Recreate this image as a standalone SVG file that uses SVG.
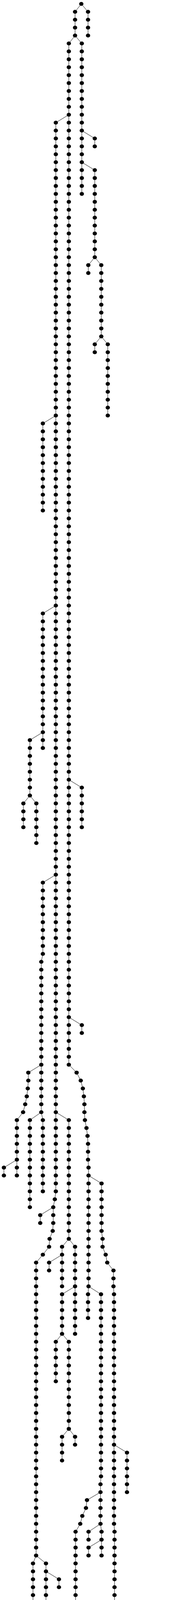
<svg xmlns="http://www.w3.org/2000/svg" width="439" height="6951" viewBox="0 0 439 6951">
<style>.e{fill:none;stroke:#000;stroke-width:1;vector-effect:non-scaling-stroke;stroke-linejoin:round}#d{fill:#000;stroke:none}</style>
<defs><ellipse id="d" cx="0" cy="0" rx="5.5" ry="0.2467"/></defs>
<rect width="439" height="6951" fill="#fff"/>
<g transform="matrix(1 0 0 20.266 0 10)">
<g id="edges">
<polyline class="e" points="208.7,0 226,1 226,4"/>
<polyline class="e" points="208.7,0 192.7,1 192.7,4"/>
<polyline class="e" points="192.7,4 176.7,5 176.7,134 196.7,135 207.3,136 212.7,137 215.3,138 216.7,139 216.7,140 218,141 222,142 224.7,143 226,144 226,146 227.3,147 227.3,162 226,163 226,166"/>
<polyline class="e" points="192.7,4 210,5 210,24"/>
<polyline class="e" points="210,16 243.3,17 243.3,18"/>
<polyline class="e" points="210,20 243.3,21 243.3,32"/>
<polyline class="e" points="243.3,32 226.7,33 226.7,34"/>
<polyline class="e" points="243.3,32 260,33 260,42"/>
<polyline class="e" points="260,42 243.3,43 243.3,44"/>
<polyline class="e" points="260,42 276.7,43 276.7,52"/>
<polyline class="e" points="176.7,14 143.3,15 143.3,150 140.7,151 136.7,152 136.7,154 135.3,155 127.3,156 126,157 110,158 92.7,159 92.7,196"/>
<polyline class="e" points="143.3,52 110,53 110,64"/>
<polyline class="e" points="143.3,76 110,77 110,94"/>
<polyline class="e" points="110,92 76.7,93 76.7,100"/>
<polyline class="e" points="76.7,100 60,101 60,104"/>
<polyline class="e" points="76.7,100 93.3,101 93.3,106"/>
<polyline class="e" points="143.3,110 110,111 110,120 106,121 106,140"/>
<polyline class="e" points="106,134 72.7,135 72.7,136 71.3,137 68.7,138 64.7,139 59.3,140 43.3,141 43.3,148"/>
<polyline class="e" points="43.3,146 10,147 10,148"/>
<polyline class="e" points="106,140 76.7,141 76.7,152"/>
<polyline class="e" points="106,140 110,141 110,150"/>
<polyline class="e" points="143.3,140 176.7,141 176.7,156"/>
<polyline class="e" points="176.7,128 210,129 210,130"/>
<polyline class="e" points="176.7,98 210,99 210,104"/>
<polyline class="e" points="227.3,148 260.7,149 260.7,155 263.3,156 263.3,157 271.3,158 275.3,159 291.3,160 291.3,162 292.7,163 292.7,192 294,193 294,206 295.3,207 295.3,226"/>
<polyline class="e" points="292.7,182 326,183 326,188"/>
<polyline class="e" points="294,206 262,207 262,268 260.7,269 260.7,328"/>
<polyline class="e" points="262,268 294,269 294,270"/>
<polyline class="e" points="295.3,220 328.7,221 328.7,284"/>
<polyline class="e" points="328.7,238 295.3,239 295.3,244"/>
<polyline class="e" points="328.7,252 362,253 362,260"/>
<polyline class="e" points="328.7,260 362,261 362,262"/>
<polyline class="e" points="328.7,276 362,277 362,298"/>
<polyline class="e" points="362,298 346,299 346,310"/>
<polyline class="e" points="346,302 312.7,303 312.7,304"/>
<polyline class="e" points="362,298 379.3,299 379.3,306"/>
<polyline class="e" points="379.3,304 412.7,305 412.7,310"/>
<polyline class="e" points="412.7,310 395.3,311 395.3,312"/>
<polyline class="e" points="412.7,310 428.7,311 428.7,312"/>
<polyline class="e" points="328.7,282 295.3,283 295.3,296"/>
<polyline class="e" points="295.3,288 328.7,289 328.7,290"/>
<polyline class="e" points="136.7,152 103.3,153 103.3,154"/>
<polyline class="e" points="176.7,156 159.3,157 159.3,162"/>
<polyline class="e" points="159.3,158 126,159 126,160"/>
<polyline class="e" points="176.7,156 192.7,157 192.7,168"/>
<polyline class="e" points="192.7,162 159.3,163 159.3,168"/>
<polyline class="e" points="159.3,168 143.3,169 143.3,174"/>
<polyline class="e" points="159.3,168 176.7,169 176.7,180"/>
<polyline class="e" points="176.7,180 159.3,181 159.3,184"/>
<polyline class="e" points="176.7,180 192.7,181 192.7,182"/>
<polyline class="e" points="227.3,162 259.3,163 259.3,186 258,187 258,192 260.7,193 260.7,196"/>
<polyline class="e" points="258,188 223.3,189 220.7,190 211.3,191 206,192 194,193 194,206"/>
<polyline class="e" points="258,192 227.3,193 227.3,194"/>
<polyline class="e" points="260.7,194 227.3,195 227.3,196"/>
<polyline class="e" points="92.7,196 84.7,197 84.7,204"/>
<polyline class="e" points="92.7,196 118,197 118,228"/>
<polyline class="e" points="118,198 151.3,199 151.3,200"/>
<polyline class="e" points="118,228 115.3,229 115.3,234"/>
<polyline class="e" points="115.3,232 82,233 82,234"/>
<polyline class="e" points="118,228 148.7,229 148.7,234"/>
<polyline class="e" points="148.7,234 119.3,235 119.3,241 118,242 115.3,243 111.3,244 107.3,245 107.3,246"/>
<polyline class="e" points="119.3,238 86,239 86,240"/>
<polyline class="e" points="148.7,234 152.7,235 152.7,244"/>
<polyline class="e" points="152.7,238 187.3,239 187.3,242 188.7,243 191.3,244 207.3,245 207.3,248"/>
<polyline class="e" points="152.7,244 140.7,245 140.7,248"/>
<polyline class="e" points="152.7,244 174,245 174,246"/>
<polyline class="e" points="207.3,248 224.7,249 224.7,250"/>
<polyline class="e" points="207.3,248 191.3,249 191.3,272"/>
<polyline class="e" points="191.3,258 224.7,259 224.7,260"/>
<polyline class="e" points="191.3,272 160.7,273 160.7,298"/>
<polyline class="e" points="191.3,272 194,273 194,278"/>
<polyline class="e" points="194,276 227.3,277 227.3,284"/>
<polyline class="e" points="160.7,298 178,299 178,300"/>
<polyline class="e" points="160.7,298 144.7,299 144.7,318"/>
<polyline class="e" points="144.7,318 128.7,319 128.7,338"/>
<polyline class="e" points="128.7,326 95.3,327 95.3,332"/>
<polyline class="e" points="128.7,338 112.7,339 112.7,340"/>
<polyline class="e" points="128.7,338 146,339 146,342"/>
<polyline class="e" points="144.7,318 162,319 162,328"/>
<polyline class="e" points="162,324 195.3,325 195.3,328"/>
</g>
<g id="nodes">
<g transform="translate(208.7)"><g id="c1-0"><use href="#d" y="0"/></g></g>
<g transform="translate(226)"><g id="c2-1"><use href="#d" y="1"/></g><g id="c2-2"><use href="#d" y="2"/></g><g id="c2-3"><use href="#d" y="3"/></g><g id="c2-4"><use href="#d" y="4"/></g></g>
<g transform="translate(192.7)"><g id="c3-1"><use href="#d" y="1"/></g><g id="c3-2"><use href="#d" y="2"/></g><g id="c3-3"><use href="#d" y="3"/></g><g id="c3-4"><use href="#d" y="4"/></g></g>
<g transform="translate(176.7)">
<g id="c4-5"><use href="#d" y="5"/></g><g id="c4-6"><use href="#d" y="6"/></g><g id="c4-7"><use href="#d" y="7"/></g><g id="c4-8"><use href="#d" y="8"/></g><g id="c4-9"><use href="#d" y="9"/></g>
<g id="c4-10"><use href="#d" y="10"/></g><g id="c4-11"><use href="#d" y="11"/></g><g id="c4-12"><use href="#d" y="12"/></g><g id="c4-13"><use href="#d" y="13"/></g><g id="c4-14"><use href="#d" y="14"/></g><g id="c4-15"><use href="#d" y="15"/></g><g id="c4-16"><use href="#d" y="16"/></g><g id="c4-17"><use href="#d" y="17"/></g><g id="c4-18"><use href="#d" y="18"/></g><g id="c4-19"><use href="#d" y="19"/></g>
<g id="c4-20"><use href="#d" y="20"/></g><g id="c4-21"><use href="#d" y="21"/></g><g id="c4-22"><use href="#d" y="22"/></g><g id="c4-23"><use href="#d" y="23"/></g><g id="c4-24"><use href="#d" y="24"/></g><g id="c4-25"><use href="#d" y="25"/></g><g id="c4-26"><use href="#d" y="26"/></g><g id="c4-27"><use href="#d" y="27"/></g><g id="c4-28"><use href="#d" y="28"/></g><g id="c4-29"><use href="#d" y="29"/></g>
<g id="c4-30"><use href="#d" y="30"/></g><g id="c4-31"><use href="#d" y="31"/></g><g id="c4-32"><use href="#d" y="32"/></g><g id="c4-33"><use href="#d" y="33"/></g><g id="c4-34"><use href="#d" y="34"/></g><g id="c4-35"><use href="#d" y="35"/></g><g id="c4-36"><use href="#d" y="36"/></g><g id="c4-37"><use href="#d" y="37"/></g><g id="c4-38"><use href="#d" y="38"/></g><g id="c4-39"><use href="#d" y="39"/></g>
<g id="c4-40"><use href="#d" y="40"/></g><g id="c4-41"><use href="#d" y="41"/></g><g id="c4-42"><use href="#d" y="42"/></g><g id="c4-43"><use href="#d" y="43"/></g><g id="c4-44"><use href="#d" y="44"/></g><g id="c4-45"><use href="#d" y="45"/></g><g id="c4-46"><use href="#d" y="46"/></g><g id="c4-47"><use href="#d" y="47"/></g><g id="c4-48"><use href="#d" y="48"/></g><g id="c4-49"><use href="#d" y="49"/></g>
<g id="c4-50"><use href="#d" y="50"/></g><g id="c4-51"><use href="#d" y="51"/></g><g id="c4-52"><use href="#d" y="52"/></g><g id="c4-53"><use href="#d" y="53"/></g><g id="c4-54"><use href="#d" y="54"/></g><g id="c4-55"><use href="#d" y="55"/></g><g id="c4-56"><use href="#d" y="56"/></g><g id="c4-57"><use href="#d" y="57"/></g><g id="c4-58"><use href="#d" y="58"/></g><g id="c4-59"><use href="#d" y="59"/></g>
<g id="c4-60"><use href="#d" y="60"/></g><g id="c4-61"><use href="#d" y="61"/></g><g id="c4-62"><use href="#d" y="62"/></g><g id="c4-63"><use href="#d" y="63"/></g><g id="c4-64"><use href="#d" y="64"/></g><g id="c4-65"><use href="#d" y="65"/></g><g id="c4-66"><use href="#d" y="66"/></g><g id="c4-67"><use href="#d" y="67"/></g><g id="c4-68"><use href="#d" y="68"/></g><g id="c4-69"><use href="#d" y="69"/></g>
<g id="c4-70"><use href="#d" y="70"/></g><g id="c4-71"><use href="#d" y="71"/></g><g id="c4-72"><use href="#d" y="72"/></g><g id="c4-73"><use href="#d" y="73"/></g><g id="c4-74"><use href="#d" y="74"/></g><g id="c4-75"><use href="#d" y="75"/></g><g id="c4-76"><use href="#d" y="76"/></g><g id="c4-77"><use href="#d" y="77"/></g><g id="c4-78"><use href="#d" y="78"/></g><g id="c4-79"><use href="#d" y="79"/></g>
<g id="c4-80"><use href="#d" y="80"/></g><g id="c4-81"><use href="#d" y="81"/></g><g id="c4-82"><use href="#d" y="82"/></g><g id="c4-83"><use href="#d" y="83"/></g><g id="c4-84"><use href="#d" y="84"/></g><g id="c4-85"><use href="#d" y="85"/></g><g id="c4-86"><use href="#d" y="86"/></g><g id="c4-87"><use href="#d" y="87"/></g><g id="c4-88"><use href="#d" y="88"/></g><g id="c4-89"><use href="#d" y="89"/></g>
<g id="c4-90"><use href="#d" y="90"/></g><g id="c4-91"><use href="#d" y="91"/></g><g id="c4-92"><use href="#d" y="92"/></g><g id="c4-93"><use href="#d" y="93"/></g><g id="c4-94"><use href="#d" y="94"/></g><g id="c4-95"><use href="#d" y="95"/></g><g id="c4-96"><use href="#d" y="96"/></g><g id="c4-97"><use href="#d" y="97"/></g><g id="c4-98"><use href="#d" y="98"/></g><g id="c4-99"><use href="#d" y="99"/></g>
<g id="c4-100"><use href="#d" y="100"/></g><g id="c4-101"><use href="#d" y="101"/></g><g id="c4-102"><use href="#d" y="102"/></g><g id="c4-103"><use href="#d" y="103"/></g><g id="c4-104"><use href="#d" y="104"/></g><g id="c4-105"><use href="#d" y="105"/></g><g id="c4-106"><use href="#d" y="106"/></g><g id="c4-107"><use href="#d" y="107"/></g><g id="c4-108"><use href="#d" y="108"/></g><g id="c4-109"><use href="#d" y="109"/></g>
<g id="c4-110"><use href="#d" y="110"/></g><g id="c4-111"><use href="#d" y="111"/></g><g id="c4-112"><use href="#d" y="112"/></g><g id="c4-113"><use href="#d" y="113"/></g><g id="c4-114"><use href="#d" y="114"/></g><g id="c4-115"><use href="#d" y="115"/></g><g id="c4-116"><use href="#d" y="116"/></g><g id="c4-117"><use href="#d" y="117"/></g><g id="c4-118"><use href="#d" y="118"/></g><g id="c4-119"><use href="#d" y="119"/></g>
<g id="c4-120"><use href="#d" y="120"/></g><g id="c4-121"><use href="#d" y="121"/></g><g id="c4-122"><use href="#d" y="122"/></g><g id="c4-123"><use href="#d" y="123"/></g><g id="c4-124"><use href="#d" y="124"/></g><g id="c4-125"><use href="#d" y="125"/></g><g id="c4-126"><use href="#d" y="126"/></g><g id="c4-127"><use href="#d" y="127"/></g><g id="c4-128"><use href="#d" y="128"/></g><g id="c4-129"><use href="#d" y="129"/></g>
<g id="c4-130"><use href="#d" y="130"/></g><g id="c4-131"><use href="#d" y="131"/></g><g id="c4-132"><use href="#d" y="132"/></g><g id="c4-133"><use href="#d" y="133"/></g><g id="c4-134"><use href="#d" y="134"/></g>
</g>
<g transform="translate(196.7)"><g id="c4-135"><use href="#d" y="135"/></g></g>
<g transform="translate(207.3)"><g id="c4-136"><use href="#d" y="136"/></g></g>
<g transform="translate(212.7)"><g id="c4-137"><use href="#d" y="137"/></g></g>
<g transform="translate(215.3)"><g id="c4-138"><use href="#d" y="138"/></g></g>
<g transform="translate(216.7)"><g id="c4-139"><use href="#d" y="139"/></g><g id="c4-140"><use href="#d" y="140"/></g></g>
<g transform="translate(218)"><g id="c4-141"><use href="#d" y="141"/></g></g>
<g transform="translate(222)"><g id="c4-142"><use href="#d" y="142"/></g></g>
<g transform="translate(224.7)"><g id="c4-143"><use href="#d" y="143"/></g></g>
<g transform="translate(226)"><g id="c4-144"><use href="#d" y="144"/></g><g id="c4-145"><use href="#d" y="145"/></g><g id="c4-146"><use href="#d" y="146"/></g></g>
<g transform="translate(227.3)"><g id="c4-147"><use href="#d" y="147"/></g><g id="c4-148"><use href="#d" y="148"/></g><g id="c4-149"><use href="#d" y="149"/></g><g id="c4-150"><use href="#d" y="150"/></g><g id="c4-151"><use href="#d" y="151"/></g><g id="c4-152"><use href="#d" y="152"/></g><g id="c4-153"><use href="#d" y="153"/></g><g id="c4-154"><use href="#d" y="154"/></g><g id="c4-155"><use href="#d" y="155"/></g><g id="c4-156"><use href="#d" y="156"/></g><g id="c4-157"><use href="#d" y="157"/></g><g id="c4-158"><use href="#d" y="158"/></g><g id="c4-159"><use href="#d" y="159"/></g><g id="c4-160"><use href="#d" y="160"/></g><g id="c4-161"><use href="#d" y="161"/></g><g id="c4-162"><use href="#d" y="162"/></g></g>
<g transform="translate(226)"><g id="c4-163"><use href="#d" y="163"/></g><g id="c4-164"><use href="#d" y="164"/></g><g id="c4-165"><use href="#d" y="165"/></g><g id="c4-166"><use href="#d" y="166"/></g></g>
<g transform="translate(210)"><g id="c5-5"><use href="#d" y="5"/></g><g id="c5-6"><use href="#d" y="6"/></g><g id="c5-7"><use href="#d" y="7"/></g><g id="c5-8"><use href="#d" y="8"/></g><g id="c5-9"><use href="#d" y="9"/></g><g id="c5-10"><use href="#d" y="10"/></g><g id="c5-11"><use href="#d" y="11"/></g><g id="c5-12"><use href="#d" y="12"/></g><g id="c5-13"><use href="#d" y="13"/></g><g id="c5-14"><use href="#d" y="14"/></g><g id="c5-15"><use href="#d" y="15"/></g><g id="c5-16"><use href="#d" y="16"/></g><g id="c5-17"><use href="#d" y="17"/></g><g id="c5-18"><use href="#d" y="18"/></g><g id="c5-19"><use href="#d" y="19"/></g><g id="c5-20"><use href="#d" y="20"/></g><g id="c5-21"><use href="#d" y="21"/></g><g id="c5-22"><use href="#d" y="22"/></g><g id="c5-23"><use href="#d" y="23"/></g><g id="c5-24"><use href="#d" y="24"/></g></g>
<g transform="translate(243.3)"><g id="c6-17"><use href="#d" y="17"/></g><g id="c6-18"><use href="#d" y="18"/></g></g>
<g transform="translate(243.3)"><g id="c7-21"><use href="#d" y="21"/></g><g id="c7-22"><use href="#d" y="22"/></g><g id="c7-23"><use href="#d" y="23"/></g><g id="c7-24"><use href="#d" y="24"/></g><g id="c7-25"><use href="#d" y="25"/></g><g id="c7-26"><use href="#d" y="26"/></g><g id="c7-27"><use href="#d" y="27"/></g><g id="c7-28"><use href="#d" y="28"/></g><g id="c7-29"><use href="#d" y="29"/></g><g id="c7-30"><use href="#d" y="30"/></g><g id="c7-31"><use href="#d" y="31"/></g><g id="c7-32"><use href="#d" y="32"/></g></g>
<g transform="translate(226.7)"><g id="c8-33"><use href="#d" y="33"/></g><g id="c8-34"><use href="#d" y="34"/></g></g>
<g transform="translate(260)"><g id="c9-33"><use href="#d" y="33"/></g><g id="c9-34"><use href="#d" y="34"/></g><g id="c9-35"><use href="#d" y="35"/></g><g id="c9-36"><use href="#d" y="36"/></g><g id="c9-37"><use href="#d" y="37"/></g><g id="c9-38"><use href="#d" y="38"/></g><g id="c9-39"><use href="#d" y="39"/></g><g id="c9-40"><use href="#d" y="40"/></g><g id="c9-41"><use href="#d" y="41"/></g><g id="c9-42"><use href="#d" y="42"/></g></g>
<g transform="translate(243.3)"><g id="c10-43"><use href="#d" y="43"/></g><g id="c10-44"><use href="#d" y="44"/></g></g>
<g transform="translate(276.7)"><g id="c11-43"><use href="#d" y="43"/></g><g id="c11-44"><use href="#d" y="44"/></g><g id="c11-45"><use href="#d" y="45"/></g><g id="c11-46"><use href="#d" y="46"/></g><g id="c11-47"><use href="#d" y="47"/></g><g id="c11-48"><use href="#d" y="48"/></g><g id="c11-49"><use href="#d" y="49"/></g><g id="c11-50"><use href="#d" y="50"/></g><g id="c11-51"><use href="#d" y="51"/></g><g id="c11-52"><use href="#d" y="52"/></g></g>
<g transform="translate(143.3)">
<g id="c12-15"><use href="#d" y="15"/></g><g id="c12-16"><use href="#d" y="16"/></g><g id="c12-17"><use href="#d" y="17"/></g><g id="c12-18"><use href="#d" y="18"/></g><g id="c12-19"><use href="#d" y="19"/></g>
<g id="c12-20"><use href="#d" y="20"/></g><g id="c12-21"><use href="#d" y="21"/></g><g id="c12-22"><use href="#d" y="22"/></g><g id="c12-23"><use href="#d" y="23"/></g><g id="c12-24"><use href="#d" y="24"/></g><g id="c12-25"><use href="#d" y="25"/></g><g id="c12-26"><use href="#d" y="26"/></g><g id="c12-27"><use href="#d" y="27"/></g><g id="c12-28"><use href="#d" y="28"/></g><g id="c12-29"><use href="#d" y="29"/></g>
<g id="c12-30"><use href="#d" y="30"/></g><g id="c12-31"><use href="#d" y="31"/></g><g id="c12-32"><use href="#d" y="32"/></g><g id="c12-33"><use href="#d" y="33"/></g><g id="c12-34"><use href="#d" y="34"/></g><g id="c12-35"><use href="#d" y="35"/></g><g id="c12-36"><use href="#d" y="36"/></g><g id="c12-37"><use href="#d" y="37"/></g><g id="c12-38"><use href="#d" y="38"/></g><g id="c12-39"><use href="#d" y="39"/></g>
<g id="c12-40"><use href="#d" y="40"/></g><g id="c12-41"><use href="#d" y="41"/></g><g id="c12-42"><use href="#d" y="42"/></g><g id="c12-43"><use href="#d" y="43"/></g><g id="c12-44"><use href="#d" y="44"/></g><g id="c12-45"><use href="#d" y="45"/></g><g id="c12-46"><use href="#d" y="46"/></g><g id="c12-47"><use href="#d" y="47"/></g><g id="c12-48"><use href="#d" y="48"/></g><g id="c12-49"><use href="#d" y="49"/></g>
<g id="c12-50"><use href="#d" y="50"/></g><g id="c12-51"><use href="#d" y="51"/></g><g id="c12-52"><use href="#d" y="52"/></g><g id="c12-53"><use href="#d" y="53"/></g><g id="c12-54"><use href="#d" y="54"/></g><g id="c12-55"><use href="#d" y="55"/></g><g id="c12-56"><use href="#d" y="56"/></g><g id="c12-57"><use href="#d" y="57"/></g><g id="c12-58"><use href="#d" y="58"/></g><g id="c12-59"><use href="#d" y="59"/></g>
<g id="c12-60"><use href="#d" y="60"/></g><g id="c12-61"><use href="#d" y="61"/></g><g id="c12-62"><use href="#d" y="62"/></g><g id="c12-63"><use href="#d" y="63"/></g><g id="c12-64"><use href="#d" y="64"/></g><g id="c12-65"><use href="#d" y="65"/></g><g id="c12-66"><use href="#d" y="66"/></g><g id="c12-67"><use href="#d" y="67"/></g><g id="c12-68"><use href="#d" y="68"/></g><g id="c12-69"><use href="#d" y="69"/></g>
<g id="c12-70"><use href="#d" y="70"/></g><g id="c12-71"><use href="#d" y="71"/></g><g id="c12-72"><use href="#d" y="72"/></g><g id="c12-73"><use href="#d" y="73"/></g><g id="c12-74"><use href="#d" y="74"/></g><g id="c12-75"><use href="#d" y="75"/></g><g id="c12-76"><use href="#d" y="76"/></g><g id="c12-77"><use href="#d" y="77"/></g><g id="c12-78"><use href="#d" y="78"/></g><g id="c12-79"><use href="#d" y="79"/></g>
<g id="c12-80"><use href="#d" y="80"/></g><g id="c12-81"><use href="#d" y="81"/></g><g id="c12-82"><use href="#d" y="82"/></g><g id="c12-83"><use href="#d" y="83"/></g><g id="c12-84"><use href="#d" y="84"/></g><g id="c12-85"><use href="#d" y="85"/></g><g id="c12-86"><use href="#d" y="86"/></g><g id="c12-87"><use href="#d" y="87"/></g><g id="c12-88"><use href="#d" y="88"/></g><g id="c12-89"><use href="#d" y="89"/></g>
<g id="c12-90"><use href="#d" y="90"/></g><g id="c12-91"><use href="#d" y="91"/></g><g id="c12-92"><use href="#d" y="92"/></g><g id="c12-93"><use href="#d" y="93"/></g><g id="c12-94"><use href="#d" y="94"/></g><g id="c12-95"><use href="#d" y="95"/></g><g id="c12-96"><use href="#d" y="96"/></g><g id="c12-97"><use href="#d" y="97"/></g><g id="c12-98"><use href="#d" y="98"/></g><g id="c12-99"><use href="#d" y="99"/></g>
<g id="c12-100"><use href="#d" y="100"/></g><g id="c12-101"><use href="#d" y="101"/></g><g id="c12-102"><use href="#d" y="102"/></g><g id="c12-103"><use href="#d" y="103"/></g><g id="c12-104"><use href="#d" y="104"/></g><g id="c12-105"><use href="#d" y="105"/></g><g id="c12-106"><use href="#d" y="106"/></g><g id="c12-107"><use href="#d" y="107"/></g><g id="c12-108"><use href="#d" y="108"/></g><g id="c12-109"><use href="#d" y="109"/></g>
<g id="c12-110"><use href="#d" y="110"/></g><g id="c12-111"><use href="#d" y="111"/></g><g id="c12-112"><use href="#d" y="112"/></g><g id="c12-113"><use href="#d" y="113"/></g><g id="c12-114"><use href="#d" y="114"/></g><g id="c12-115"><use href="#d" y="115"/></g><g id="c12-116"><use href="#d" y="116"/></g><g id="c12-117"><use href="#d" y="117"/></g><g id="c12-118"><use href="#d" y="118"/></g><g id="c12-119"><use href="#d" y="119"/></g>
<g id="c12-120"><use href="#d" y="120"/></g><g id="c12-121"><use href="#d" y="121"/></g><g id="c12-122"><use href="#d" y="122"/></g><g id="c12-123"><use href="#d" y="123"/></g><g id="c12-124"><use href="#d" y="124"/></g><g id="c12-125"><use href="#d" y="125"/></g><g id="c12-126"><use href="#d" y="126"/></g><g id="c12-127"><use href="#d" y="127"/></g><g id="c12-128"><use href="#d" y="128"/></g><g id="c12-129"><use href="#d" y="129"/></g>
<g id="c12-130"><use href="#d" y="130"/></g><g id="c12-131"><use href="#d" y="131"/></g><g id="c12-132"><use href="#d" y="132"/></g><g id="c12-133"><use href="#d" y="133"/></g><g id="c12-134"><use href="#d" y="134"/></g><g id="c12-135"><use href="#d" y="135"/></g><g id="c12-136"><use href="#d" y="136"/></g><g id="c12-137"><use href="#d" y="137"/></g><g id="c12-138"><use href="#d" y="138"/></g><g id="c12-139"><use href="#d" y="139"/></g>
<g id="c12-140"><use href="#d" y="140"/></g><g id="c12-141"><use href="#d" y="141"/></g><g id="c12-142"><use href="#d" y="142"/></g><g id="c12-143"><use href="#d" y="143"/></g><g id="c12-144"><use href="#d" y="144"/></g><g id="c12-145"><use href="#d" y="145"/></g><g id="c12-146"><use href="#d" y="146"/></g><g id="c12-147"><use href="#d" y="147"/></g><g id="c12-148"><use href="#d" y="148"/></g><g id="c12-149"><use href="#d" y="149"/></g>
<g id="c12-150"><use href="#d" y="150"/></g>
</g>
<g transform="translate(140.7)"><g id="c12-151"><use href="#d" y="151"/></g></g>
<g transform="translate(136.7)"><g id="c12-152"><use href="#d" y="152"/></g><g id="c12-153"><use href="#d" y="153"/></g><g id="c12-154"><use href="#d" y="154"/></g></g>
<g transform="translate(135.3)"><g id="c12-155"><use href="#d" y="155"/></g></g>
<g transform="translate(127.3)"><g id="c12-156"><use href="#d" y="156"/></g></g>
<g transform="translate(126)"><g id="c12-157"><use href="#d" y="157"/></g></g>
<g transform="translate(110)"><g id="c12-158"><use href="#d" y="158"/></g></g>
<g transform="translate(92.7)">
<g id="c12-159"><use href="#d" y="159"/></g><g id="c12-160"><use href="#d" y="160"/></g><g id="c12-161"><use href="#d" y="161"/></g><g id="c12-162"><use href="#d" y="162"/></g><g id="c12-163"><use href="#d" y="163"/></g><g id="c12-164"><use href="#d" y="164"/></g><g id="c12-165"><use href="#d" y="165"/></g><g id="c12-166"><use href="#d" y="166"/></g><g id="c12-167"><use href="#d" y="167"/></g><g id="c12-168"><use href="#d" y="168"/></g><g id="c12-169"><use href="#d" y="169"/></g>
<g id="c12-170"><use href="#d" y="170"/></g><g id="c12-171"><use href="#d" y="171"/></g><g id="c12-172"><use href="#d" y="172"/></g><g id="c12-173"><use href="#d" y="173"/></g><g id="c12-174"><use href="#d" y="174"/></g><g id="c12-175"><use href="#d" y="175"/></g><g id="c12-176"><use href="#d" y="176"/></g><g id="c12-177"><use href="#d" y="177"/></g><g id="c12-178"><use href="#d" y="178"/></g><g id="c12-179"><use href="#d" y="179"/></g>
<g id="c12-180"><use href="#d" y="180"/></g><g id="c12-181"><use href="#d" y="181"/></g><g id="c12-182"><use href="#d" y="182"/></g><g id="c12-183"><use href="#d" y="183"/></g><g id="c12-184"><use href="#d" y="184"/></g><g id="c12-185"><use href="#d" y="185"/></g><g id="c12-186"><use href="#d" y="186"/></g><g id="c12-187"><use href="#d" y="187"/></g><g id="c12-188"><use href="#d" y="188"/></g><g id="c12-189"><use href="#d" y="189"/></g>
<g id="c12-190"><use href="#d" y="190"/></g><g id="c12-191"><use href="#d" y="191"/></g><g id="c12-192"><use href="#d" y="192"/></g><g id="c12-193"><use href="#d" y="193"/></g><g id="c12-194"><use href="#d" y="194"/></g><g id="c12-195"><use href="#d" y="195"/></g><g id="c12-196"><use href="#d" y="196"/></g>
</g>
<g transform="translate(110)"><g id="c13-53"><use href="#d" y="53"/></g><g id="c13-54"><use href="#d" y="54"/></g><g id="c13-55"><use href="#d" y="55"/></g><g id="c13-56"><use href="#d" y="56"/></g><g id="c13-57"><use href="#d" y="57"/></g><g id="c13-58"><use href="#d" y="58"/></g><g id="c13-59"><use href="#d" y="59"/></g><g id="c13-60"><use href="#d" y="60"/></g><g id="c13-61"><use href="#d" y="61"/></g><g id="c13-62"><use href="#d" y="62"/></g><g id="c13-63"><use href="#d" y="63"/></g><g id="c13-64"><use href="#d" y="64"/></g></g>
<g transform="translate(110)"><g id="c14-77"><use href="#d" y="77"/></g><g id="c14-78"><use href="#d" y="78"/></g><g id="c14-79"><use href="#d" y="79"/></g><g id="c14-80"><use href="#d" y="80"/></g><g id="c14-81"><use href="#d" y="81"/></g><g id="c14-82"><use href="#d" y="82"/></g><g id="c14-83"><use href="#d" y="83"/></g><g id="c14-84"><use href="#d" y="84"/></g><g id="c14-85"><use href="#d" y="85"/></g><g id="c14-86"><use href="#d" y="86"/></g><g id="c14-87"><use href="#d" y="87"/></g><g id="c14-88"><use href="#d" y="88"/></g><g id="c14-89"><use href="#d" y="89"/></g><g id="c14-90"><use href="#d" y="90"/></g><g id="c14-91"><use href="#d" y="91"/></g><g id="c14-92"><use href="#d" y="92"/></g><g id="c14-93"><use href="#d" y="93"/></g><g id="c14-94"><use href="#d" y="94"/></g></g>
<g transform="translate(76.7)"><g id="c15-93"><use href="#d" y="93"/></g><g id="c15-94"><use href="#d" y="94"/></g><g id="c15-95"><use href="#d" y="95"/></g><g id="c15-96"><use href="#d" y="96"/></g><g id="c15-97"><use href="#d" y="97"/></g><g id="c15-98"><use href="#d" y="98"/></g><g id="c15-99"><use href="#d" y="99"/></g><g id="c15-100"><use href="#d" y="100"/></g></g>
<g transform="translate(60)"><g id="c80-101"><use href="#d" y="101"/></g><g id="c80-102"><use href="#d" y="102"/></g><g id="c80-103"><use href="#d" y="103"/></g><g id="c80-104"><use href="#d" y="104"/></g></g>
<g transform="translate(93.3)"><g id="c81-101"><use href="#d" y="101"/></g><g id="c81-102"><use href="#d" y="102"/></g><g id="c81-103"><use href="#d" y="103"/></g><g id="c81-104"><use href="#d" y="104"/></g><g id="c81-105"><use href="#d" y="105"/></g><g id="c81-106"><use href="#d" y="106"/></g></g>
<g transform="translate(110)"><g id="c16-111"><use href="#d" y="111"/></g><g id="c16-112"><use href="#d" y="112"/></g><g id="c16-113"><use href="#d" y="113"/></g><g id="c16-114"><use href="#d" y="114"/></g><g id="c16-115"><use href="#d" y="115"/></g><g id="c16-116"><use href="#d" y="116"/></g><g id="c16-117"><use href="#d" y="117"/></g><g id="c16-118"><use href="#d" y="118"/></g><g id="c16-119"><use href="#d" y="119"/></g><g id="c16-120"><use href="#d" y="120"/></g></g>
<g transform="translate(106)"><g id="c16-121"><use href="#d" y="121"/></g><g id="c16-122"><use href="#d" y="122"/></g><g id="c16-123"><use href="#d" y="123"/></g><g id="c16-124"><use href="#d" y="124"/></g><g id="c16-125"><use href="#d" y="125"/></g><g id="c16-126"><use href="#d" y="126"/></g><g id="c16-127"><use href="#d" y="127"/></g><g id="c16-128"><use href="#d" y="128"/></g><g id="c16-129"><use href="#d" y="129"/></g><g id="c16-130"><use href="#d" y="130"/></g><g id="c16-131"><use href="#d" y="131"/></g><g id="c16-132"><use href="#d" y="132"/></g><g id="c16-133"><use href="#d" y="133"/></g><g id="c16-134"><use href="#d" y="134"/></g><g id="c16-135"><use href="#d" y="135"/></g><g id="c16-136"><use href="#d" y="136"/></g><g id="c16-137"><use href="#d" y="137"/></g><g id="c16-138"><use href="#d" y="138"/></g><g id="c16-139"><use href="#d" y="139"/></g><g id="c16-140"><use href="#d" y="140"/></g></g>
<g transform="translate(72.7)"><g id="c17-135"><use href="#d" y="135"/></g><g id="c17-136"><use href="#d" y="136"/></g></g>
<g transform="translate(71.3)"><g id="c17-137"><use href="#d" y="137"/></g></g>
<g transform="translate(68.7)"><g id="c17-138"><use href="#d" y="138"/></g></g>
<g transform="translate(64.7)"><g id="c17-139"><use href="#d" y="139"/></g></g>
<g transform="translate(59.3)"><g id="c17-140"><use href="#d" y="140"/></g></g>
<g transform="translate(43.3)"><g id="c17-141"><use href="#d" y="141"/></g><g id="c17-142"><use href="#d" y="142"/></g><g id="c17-143"><use href="#d" y="143"/></g><g id="c17-144"><use href="#d" y="144"/></g><g id="c17-145"><use href="#d" y="145"/></g><g id="c17-146"><use href="#d" y="146"/></g><g id="c17-147"><use href="#d" y="147"/></g><g id="c17-148"><use href="#d" y="148"/></g></g>
<g transform="translate(10)"><g id="c18-147"><use href="#d" y="147"/></g><g id="c18-148"><use href="#d" y="148"/></g></g>
<g transform="translate(76.7)"><g id="c19-141"><use href="#d" y="141"/></g><g id="c19-142"><use href="#d" y="142"/></g><g id="c19-143"><use href="#d" y="143"/></g><g id="c19-144"><use href="#d" y="144"/></g><g id="c19-145"><use href="#d" y="145"/></g><g id="c19-146"><use href="#d" y="146"/></g><g id="c19-147"><use href="#d" y="147"/></g><g id="c19-148"><use href="#d" y="148"/></g><g id="c19-149"><use href="#d" y="149"/></g><g id="c19-150"><use href="#d" y="150"/></g><g id="c19-151"><use href="#d" y="151"/></g><g id="c19-152"><use href="#d" y="152"/></g></g>
<g transform="translate(110)"><g id="c20-141"><use href="#d" y="141"/></g><g id="c20-142"><use href="#d" y="142"/></g><g id="c20-143"><use href="#d" y="143"/></g><g id="c20-144"><use href="#d" y="144"/></g><g id="c20-145"><use href="#d" y="145"/></g><g id="c20-146"><use href="#d" y="146"/></g><g id="c20-147"><use href="#d" y="147"/></g><g id="c20-148"><use href="#d" y="148"/></g><g id="c20-149"><use href="#d" y="149"/></g><g id="c20-150"><use href="#d" y="150"/></g></g>
<g transform="translate(176.7)"><g id="c21-141"><use href="#d" y="141"/></g><g id="c21-142"><use href="#d" y="142"/></g><g id="c21-143"><use href="#d" y="143"/></g><g id="c21-144"><use href="#d" y="144"/></g><g id="c21-145"><use href="#d" y="145"/></g><g id="c21-146"><use href="#d" y="146"/></g><g id="c21-147"><use href="#d" y="147"/></g><g id="c21-148"><use href="#d" y="148"/></g><g id="c21-149"><use href="#d" y="149"/></g><g id="c21-150"><use href="#d" y="150"/></g><g id="c21-151"><use href="#d" y="151"/></g><g id="c21-152"><use href="#d" y="152"/></g><g id="c21-153"><use href="#d" y="153"/></g><g id="c21-154"><use href="#d" y="154"/></g><g id="c21-155"><use href="#d" y="155"/></g><g id="c21-156"><use href="#d" y="156"/></g></g>
<g transform="translate(210)"><g id="c22-129"><use href="#d" y="129"/></g><g id="c22-130"><use href="#d" y="130"/></g></g>
<g transform="translate(210)"><g id="c23-99"><use href="#d" y="99"/></g><g id="c23-100"><use href="#d" y="100"/></g><g id="c23-101"><use href="#d" y="101"/></g><g id="c23-102"><use href="#d" y="102"/></g><g id="c23-103"><use href="#d" y="103"/></g><g id="c23-104"><use href="#d" y="104"/></g></g>
<g transform="translate(260.7)"><g id="c24-149"><use href="#d" y="149"/></g><g id="c24-150"><use href="#d" y="150"/></g><g id="c24-151"><use href="#d" y="151"/></g><g id="c24-152"><use href="#d" y="152"/></g><g id="c24-153"><use href="#d" y="153"/></g><g id="c24-154"><use href="#d" y="154"/></g><g id="c24-155"><use href="#d" y="155"/></g></g>
<g transform="translate(263.3)"><g id="c24-156"><use href="#d" y="156"/></g><g id="c24-157"><use href="#d" y="157"/></g></g>
<g transform="translate(271.3)"><g id="c24-158"><use href="#d" y="158"/></g></g>
<g transform="translate(275.3)"><g id="c24-159"><use href="#d" y="159"/></g></g>
<g transform="translate(291.3)"><g id="c24-160"><use href="#d" y="160"/></g><g id="c24-161"><use href="#d" y="161"/></g><g id="c24-162"><use href="#d" y="162"/></g></g>
<g transform="translate(292.7)">
<g id="c24-163"><use href="#d" y="163"/></g><g id="c24-164"><use href="#d" y="164"/></g><g id="c24-165"><use href="#d" y="165"/></g><g id="c24-166"><use href="#d" y="166"/></g><g id="c24-167"><use href="#d" y="167"/></g><g id="c24-168"><use href="#d" y="168"/></g><g id="c24-169"><use href="#d" y="169"/></g><g id="c24-170"><use href="#d" y="170"/></g><g id="c24-171"><use href="#d" y="171"/></g><g id="c24-172"><use href="#d" y="172"/></g><g id="c24-173"><use href="#d" y="173"/></g><g id="c24-174"><use href="#d" y="174"/></g><g id="c24-175"><use href="#d" y="175"/></g><g id="c24-176"><use href="#d" y="176"/></g><g id="c24-177"><use href="#d" y="177"/></g>
<g id="c24-178"><use href="#d" y="178"/></g><g id="c24-179"><use href="#d" y="179"/></g><g id="c24-180"><use href="#d" y="180"/></g><g id="c24-181"><use href="#d" y="181"/></g><g id="c24-182"><use href="#d" y="182"/></g><g id="c24-183"><use href="#d" y="183"/></g><g id="c24-184"><use href="#d" y="184"/></g><g id="c24-185"><use href="#d" y="185"/></g><g id="c24-186"><use href="#d" y="186"/></g><g id="c24-187"><use href="#d" y="187"/></g><g id="c24-188"><use href="#d" y="188"/></g><g id="c24-189"><use href="#d" y="189"/></g><g id="c24-190"><use href="#d" y="190"/></g><g id="c24-191"><use href="#d" y="191"/></g><g id="c24-192"><use href="#d" y="192"/></g>
</g>
<g transform="translate(294)"><g id="c24-193"><use href="#d" y="193"/></g><g id="c24-194"><use href="#d" y="194"/></g><g id="c24-195"><use href="#d" y="195"/></g><g id="c24-196"><use href="#d" y="196"/></g><g id="c24-197"><use href="#d" y="197"/></g><g id="c24-198"><use href="#d" y="198"/></g><g id="c24-199"><use href="#d" y="199"/></g><g id="c24-200"><use href="#d" y="200"/></g><g id="c24-201"><use href="#d" y="201"/></g><g id="c24-202"><use href="#d" y="202"/></g><g id="c24-203"><use href="#d" y="203"/></g><g id="c24-204"><use href="#d" y="204"/></g><g id="c24-205"><use href="#d" y="205"/></g><g id="c24-206"><use href="#d" y="206"/></g></g>
<g transform="translate(295.3)"><g id="c24-207"><use href="#d" y="207"/></g><g id="c24-208"><use href="#d" y="208"/></g><g id="c24-209"><use href="#d" y="209"/></g><g id="c24-210"><use href="#d" y="210"/></g><g id="c24-211"><use href="#d" y="211"/></g><g id="c24-212"><use href="#d" y="212"/></g><g id="c24-213"><use href="#d" y="213"/></g><g id="c24-214"><use href="#d" y="214"/></g><g id="c24-215"><use href="#d" y="215"/></g><g id="c24-216"><use href="#d" y="216"/></g><g id="c24-217"><use href="#d" y="217"/></g><g id="c24-218"><use href="#d" y="218"/></g><g id="c24-219"><use href="#d" y="219"/></g><g id="c24-220"><use href="#d" y="220"/></g><g id="c24-221"><use href="#d" y="221"/></g><g id="c24-222"><use href="#d" y="222"/></g><g id="c24-223"><use href="#d" y="223"/></g><g id="c24-224"><use href="#d" y="224"/></g><g id="c24-225"><use href="#d" y="225"/></g><g id="c24-226"><use href="#d" y="226"/></g></g>
<g transform="translate(326)"><g id="c25-183"><use href="#d" y="183"/></g><g id="c25-184"><use href="#d" y="184"/></g><g id="c25-185"><use href="#d" y="185"/></g><g id="c25-186"><use href="#d" y="186"/></g><g id="c25-187"><use href="#d" y="187"/></g><g id="c25-188"><use href="#d" y="188"/></g></g>
<g transform="translate(262)">
<g id="c26-207"><use href="#d" y="207"/></g><g id="c26-208"><use href="#d" y="208"/></g><g id="c26-209"><use href="#d" y="209"/></g><g id="c26-210"><use href="#d" y="210"/></g><g id="c26-211"><use href="#d" y="211"/></g><g id="c26-212"><use href="#d" y="212"/></g><g id="c26-213"><use href="#d" y="213"/></g><g id="c26-214"><use href="#d" y="214"/></g><g id="c26-215"><use href="#d" y="215"/></g><g id="c26-216"><use href="#d" y="216"/></g><g id="c26-217"><use href="#d" y="217"/></g><g id="c26-218"><use href="#d" y="218"/></g><g id="c26-219"><use href="#d" y="219"/></g>
<g id="c26-220"><use href="#d" y="220"/></g><g id="c26-221"><use href="#d" y="221"/></g><g id="c26-222"><use href="#d" y="222"/></g><g id="c26-223"><use href="#d" y="223"/></g><g id="c26-224"><use href="#d" y="224"/></g><g id="c26-225"><use href="#d" y="225"/></g><g id="c26-226"><use href="#d" y="226"/></g><g id="c26-227"><use href="#d" y="227"/></g><g id="c26-228"><use href="#d" y="228"/></g><g id="c26-229"><use href="#d" y="229"/></g>
<g id="c26-230"><use href="#d" y="230"/></g><g id="c26-231"><use href="#d" y="231"/></g><g id="c26-232"><use href="#d" y="232"/></g><g id="c26-233"><use href="#d" y="233"/></g><g id="c26-234"><use href="#d" y="234"/></g><g id="c26-235"><use href="#d" y="235"/></g><g id="c26-236"><use href="#d" y="236"/></g><g id="c26-237"><use href="#d" y="237"/></g><g id="c26-238"><use href="#d" y="238"/></g><g id="c26-239"><use href="#d" y="239"/></g>
<g id="c26-240"><use href="#d" y="240"/></g><g id="c26-241"><use href="#d" y="241"/></g><g id="c26-242"><use href="#d" y="242"/></g><g id="c26-243"><use href="#d" y="243"/></g><g id="c26-244"><use href="#d" y="244"/></g><g id="c26-245"><use href="#d" y="245"/></g><g id="c26-246"><use href="#d" y="246"/></g><g id="c26-247"><use href="#d" y="247"/></g><g id="c26-248"><use href="#d" y="248"/></g><g id="c26-249"><use href="#d" y="249"/></g>
<g id="c26-250"><use href="#d" y="250"/></g><g id="c26-251"><use href="#d" y="251"/></g><g id="c26-252"><use href="#d" y="252"/></g><g id="c26-253"><use href="#d" y="253"/></g><g id="c26-254"><use href="#d" y="254"/></g><g id="c26-255"><use href="#d" y="255"/></g><g id="c26-256"><use href="#d" y="256"/></g><g id="c26-257"><use href="#d" y="257"/></g><g id="c26-258"><use href="#d" y="258"/></g><g id="c26-259"><use href="#d" y="259"/></g>
<g id="c26-260"><use href="#d" y="260"/></g><g id="c26-261"><use href="#d" y="261"/></g><g id="c26-262"><use href="#d" y="262"/></g><g id="c26-263"><use href="#d" y="263"/></g><g id="c26-264"><use href="#d" y="264"/></g><g id="c26-265"><use href="#d" y="265"/></g><g id="c26-266"><use href="#d" y="266"/></g><g id="c26-267"><use href="#d" y="267"/></g><g id="c26-268"><use href="#d" y="268"/></g>
</g>
<g transform="translate(260.7)">
<g id="c26-269"><use href="#d" y="269"/></g>
<g id="c26-270"><use href="#d" y="270"/></g><g id="c26-271"><use href="#d" y="271"/></g><g id="c26-272"><use href="#d" y="272"/></g><g id="c26-273"><use href="#d" y="273"/></g><g id="c26-274"><use href="#d" y="274"/></g><g id="c26-275"><use href="#d" y="275"/></g><g id="c26-276"><use href="#d" y="276"/></g><g id="c26-277"><use href="#d" y="277"/></g><g id="c26-278"><use href="#d" y="278"/></g><g id="c26-279"><use href="#d" y="279"/></g>
<g id="c26-280"><use href="#d" y="280"/></g><g id="c26-281"><use href="#d" y="281"/></g><g id="c26-282"><use href="#d" y="282"/></g><g id="c26-283"><use href="#d" y="283"/></g><g id="c26-284"><use href="#d" y="284"/></g><g id="c26-285"><use href="#d" y="285"/></g><g id="c26-286"><use href="#d" y="286"/></g><g id="c26-287"><use href="#d" y="287"/></g><g id="c26-288"><use href="#d" y="288"/></g><g id="c26-289"><use href="#d" y="289"/></g>
<g id="c26-290"><use href="#d" y="290"/></g><g id="c26-291"><use href="#d" y="291"/></g><g id="c26-292"><use href="#d" y="292"/></g><g id="c26-293"><use href="#d" y="293"/></g><g id="c26-294"><use href="#d" y="294"/></g><g id="c26-295"><use href="#d" y="295"/></g><g id="c26-296"><use href="#d" y="296"/></g><g id="c26-297"><use href="#d" y="297"/></g><g id="c26-298"><use href="#d" y="298"/></g><g id="c26-299"><use href="#d" y="299"/></g>
<g id="c26-300"><use href="#d" y="300"/></g><g id="c26-301"><use href="#d" y="301"/></g><g id="c26-302"><use href="#d" y="302"/></g><g id="c26-303"><use href="#d" y="303"/></g><g id="c26-304"><use href="#d" y="304"/></g><g id="c26-305"><use href="#d" y="305"/></g><g id="c26-306"><use href="#d" y="306"/></g><g id="c26-307"><use href="#d" y="307"/></g><g id="c26-308"><use href="#d" y="308"/></g><g id="c26-309"><use href="#d" y="309"/></g>
<g id="c26-310"><use href="#d" y="310"/></g><g id="c26-311"><use href="#d" y="311"/></g><g id="c26-312"><use href="#d" y="312"/></g><g id="c26-313"><use href="#d" y="313"/></g><g id="c26-314"><use href="#d" y="314"/></g><g id="c26-315"><use href="#d" y="315"/></g><g id="c26-316"><use href="#d" y="316"/></g><g id="c26-317"><use href="#d" y="317"/></g><g id="c26-318"><use href="#d" y="318"/></g><g id="c26-319"><use href="#d" y="319"/></g>
<g id="c26-320"><use href="#d" y="320"/></g><g id="c26-321"><use href="#d" y="321"/></g><g id="c26-322"><use href="#d" y="322"/></g><g id="c26-323"><use href="#d" y="323"/></g><g id="c26-324"><use href="#d" y="324"/></g><g id="c26-325"><use href="#d" y="325"/></g><g id="c26-326"><use href="#d" y="326"/></g><g id="c26-327"><use href="#d" y="327"/></g><g id="c26-328"><use href="#d" y="328"/></g>
</g>
<g transform="translate(294)"><g id="c27-269"><use href="#d" y="269"/></g><g id="c27-270"><use href="#d" y="270"/></g></g>
<g transform="translate(328.7)">
<g id="c28-221"><use href="#d" y="221"/></g><g id="c28-222"><use href="#d" y="222"/></g><g id="c28-223"><use href="#d" y="223"/></g><g id="c28-224"><use href="#d" y="224"/></g><g id="c28-225"><use href="#d" y="225"/></g><g id="c28-226"><use href="#d" y="226"/></g><g id="c28-227"><use href="#d" y="227"/></g><g id="c28-228"><use href="#d" y="228"/></g><g id="c28-229"><use href="#d" y="229"/></g>
<g id="c28-230"><use href="#d" y="230"/></g><g id="c28-231"><use href="#d" y="231"/></g><g id="c28-232"><use href="#d" y="232"/></g><g id="c28-233"><use href="#d" y="233"/></g><g id="c28-234"><use href="#d" y="234"/></g><g id="c28-235"><use href="#d" y="235"/></g><g id="c28-236"><use href="#d" y="236"/></g><g id="c28-237"><use href="#d" y="237"/></g><g id="c28-238"><use href="#d" y="238"/></g><g id="c28-239"><use href="#d" y="239"/></g>
<g id="c28-240"><use href="#d" y="240"/></g><g id="c28-241"><use href="#d" y="241"/></g><g id="c28-242"><use href="#d" y="242"/></g><g id="c28-243"><use href="#d" y="243"/></g><g id="c28-244"><use href="#d" y="244"/></g><g id="c28-245"><use href="#d" y="245"/></g><g id="c28-246"><use href="#d" y="246"/></g><g id="c28-247"><use href="#d" y="247"/></g><g id="c28-248"><use href="#d" y="248"/></g><g id="c28-249"><use href="#d" y="249"/></g>
<g id="c28-250"><use href="#d" y="250"/></g><g id="c28-251"><use href="#d" y="251"/></g><g id="c28-252"><use href="#d" y="252"/></g><g id="c28-253"><use href="#d" y="253"/></g><g id="c28-254"><use href="#d" y="254"/></g><g id="c28-255"><use href="#d" y="255"/></g><g id="c28-256"><use href="#d" y="256"/></g><g id="c28-257"><use href="#d" y="257"/></g><g id="c28-258"><use href="#d" y="258"/></g><g id="c28-259"><use href="#d" y="259"/></g>
<g id="c28-260"><use href="#d" y="260"/></g><g id="c28-261"><use href="#d" y="261"/></g><g id="c28-262"><use href="#d" y="262"/></g><g id="c28-263"><use href="#d" y="263"/></g><g id="c28-264"><use href="#d" y="264"/></g><g id="c28-265"><use href="#d" y="265"/></g><g id="c28-266"><use href="#d" y="266"/></g><g id="c28-267"><use href="#d" y="267"/></g><g id="c28-268"><use href="#d" y="268"/></g><g id="c28-269"><use href="#d" y="269"/></g>
<g id="c28-270"><use href="#d" y="270"/></g><g id="c28-271"><use href="#d" y="271"/></g><g id="c28-272"><use href="#d" y="272"/></g><g id="c28-273"><use href="#d" y="273"/></g><g id="c28-274"><use href="#d" y="274"/></g><g id="c28-275"><use href="#d" y="275"/></g><g id="c28-276"><use href="#d" y="276"/></g><g id="c28-277"><use href="#d" y="277"/></g><g id="c28-278"><use href="#d" y="278"/></g><g id="c28-279"><use href="#d" y="279"/></g>
<g id="c28-280"><use href="#d" y="280"/></g><g id="c28-281"><use href="#d" y="281"/></g><g id="c28-282"><use href="#d" y="282"/></g><g id="c28-283"><use href="#d" y="283"/></g><g id="c28-284"><use href="#d" y="284"/></g>
</g>
<g transform="translate(295.3)"><g id="c29-239"><use href="#d" y="239"/></g><g id="c29-240"><use href="#d" y="240"/></g><g id="c29-241"><use href="#d" y="241"/></g><g id="c29-242"><use href="#d" y="242"/></g><g id="c29-243"><use href="#d" y="243"/></g><g id="c29-244"><use href="#d" y="244"/></g></g>
<g transform="translate(362)"><g id="c30-253"><use href="#d" y="253"/></g><g id="c30-254"><use href="#d" y="254"/></g><g id="c30-255"><use href="#d" y="255"/></g><g id="c30-256"><use href="#d" y="256"/></g><g id="c30-257"><use href="#d" y="257"/></g><g id="c30-258"><use href="#d" y="258"/></g><g id="c30-259"><use href="#d" y="259"/></g><g id="c30-260"><use href="#d" y="260"/></g></g>
<g transform="translate(362)"><g id="c31-261"><use href="#d" y="261"/></g><g id="c31-262"><use href="#d" y="262"/></g></g>
<g transform="translate(362)"><g id="c32-277"><use href="#d" y="277"/></g><g id="c32-278"><use href="#d" y="278"/></g><g id="c32-279"><use href="#d" y="279"/></g><g id="c32-280"><use href="#d" y="280"/></g><g id="c32-281"><use href="#d" y="281"/></g><g id="c32-282"><use href="#d" y="282"/></g><g id="c32-283"><use href="#d" y="283"/></g><g id="c32-284"><use href="#d" y="284"/></g><g id="c32-285"><use href="#d" y="285"/></g><g id="c32-286"><use href="#d" y="286"/></g><g id="c32-287"><use href="#d" y="287"/></g><g id="c32-288"><use href="#d" y="288"/></g><g id="c32-289"><use href="#d" y="289"/></g><g id="c32-290"><use href="#d" y="290"/></g><g id="c32-291"><use href="#d" y="291"/></g><g id="c32-292"><use href="#d" y="292"/></g><g id="c32-293"><use href="#d" y="293"/></g><g id="c32-294"><use href="#d" y="294"/></g><g id="c32-295"><use href="#d" y="295"/></g><g id="c32-296"><use href="#d" y="296"/></g><g id="c32-297"><use href="#d" y="297"/></g><g id="c32-298"><use href="#d" y="298"/></g></g>
<g transform="translate(346)"><g id="c33-299"><use href="#d" y="299"/></g><g id="c33-300"><use href="#d" y="300"/></g><g id="c33-301"><use href="#d" y="301"/></g><g id="c33-302"><use href="#d" y="302"/></g><g id="c33-303"><use href="#d" y="303"/></g><g id="c33-304"><use href="#d" y="304"/></g><g id="c33-305"><use href="#d" y="305"/></g><g id="c33-306"><use href="#d" y="306"/></g><g id="c33-307"><use href="#d" y="307"/></g><g id="c33-308"><use href="#d" y="308"/></g><g id="c33-309"><use href="#d" y="309"/></g><g id="c33-310"><use href="#d" y="310"/></g></g>
<g transform="translate(312.7)"><g id="c34-303"><use href="#d" y="303"/></g><g id="c34-304"><use href="#d" y="304"/></g></g>
<g transform="translate(379.3)"><g id="c35-299"><use href="#d" y="299"/></g><g id="c35-300"><use href="#d" y="300"/></g><g id="c35-301"><use href="#d" y="301"/></g><g id="c35-302"><use href="#d" y="302"/></g><g id="c35-303"><use href="#d" y="303"/></g><g id="c35-304"><use href="#d" y="304"/></g><g id="c35-305"><use href="#d" y="305"/></g><g id="c35-306"><use href="#d" y="306"/></g></g>
<g transform="translate(412.7)"><g id="c36-305"><use href="#d" y="305"/></g><g id="c36-306"><use href="#d" y="306"/></g><g id="c36-307"><use href="#d" y="307"/></g><g id="c36-308"><use href="#d" y="308"/></g><g id="c36-309"><use href="#d" y="309"/></g><g id="c36-310"><use href="#d" y="310"/></g></g>
<g transform="translate(395.3)"><g id="c37-311"><use href="#d" y="311"/></g><g id="c37-312"><use href="#d" y="312"/></g></g>
<g transform="translate(428.7)"><g id="c38-311"><use href="#d" y="311"/></g><g id="c38-312"><use href="#d" y="312"/></g></g>
<g transform="translate(295.3)"><g id="c39-283"><use href="#d" y="283"/></g><g id="c39-284"><use href="#d" y="284"/></g><g id="c39-285"><use href="#d" y="285"/></g><g id="c39-286"><use href="#d" y="286"/></g><g id="c39-287"><use href="#d" y="287"/></g><g id="c39-288"><use href="#d" y="288"/></g><g id="c39-289"><use href="#d" y="289"/></g><g id="c39-290"><use href="#d" y="290"/></g><g id="c39-291"><use href="#d" y="291"/></g><g id="c39-292"><use href="#d" y="292"/></g><g id="c39-293"><use href="#d" y="293"/></g><g id="c39-294"><use href="#d" y="294"/></g><g id="c39-295"><use href="#d" y="295"/></g><g id="c39-296"><use href="#d" y="296"/></g></g>
<g transform="translate(328.7)"><g id="c40-289"><use href="#d" y="289"/></g><g id="c40-290"><use href="#d" y="290"/></g></g>
<g transform="translate(103.3)"><g id="c41-153"><use href="#d" y="153"/></g><g id="c41-154"><use href="#d" y="154"/></g></g>
<g transform="translate(159.3)"><g id="c42-157"><use href="#d" y="157"/></g><g id="c42-158"><use href="#d" y="158"/></g><g id="c42-159"><use href="#d" y="159"/></g><g id="c42-160"><use href="#d" y="160"/></g><g id="c42-161"><use href="#d" y="161"/></g><g id="c42-162"><use href="#d" y="162"/></g></g>
<g transform="translate(126)"><g id="c43-159"><use href="#d" y="159"/></g><g id="c43-160"><use href="#d" y="160"/></g></g>
<g transform="translate(192.7)"><g id="c44-157"><use href="#d" y="157"/></g><g id="c44-158"><use href="#d" y="158"/></g><g id="c44-159"><use href="#d" y="159"/></g><g id="c44-160"><use href="#d" y="160"/></g><g id="c44-161"><use href="#d" y="161"/></g><g id="c44-162"><use href="#d" y="162"/></g><g id="c44-163"><use href="#d" y="163"/></g><g id="c44-164"><use href="#d" y="164"/></g><g id="c44-165"><use href="#d" y="165"/></g><g id="c44-166"><use href="#d" y="166"/></g><g id="c44-167"><use href="#d" y="167"/></g><g id="c44-168"><use href="#d" y="168"/></g></g>
<g transform="translate(159.3)"><g id="c45-163"><use href="#d" y="163"/></g><g id="c45-164"><use href="#d" y="164"/></g><g id="c45-165"><use href="#d" y="165"/></g><g id="c45-166"><use href="#d" y="166"/></g><g id="c45-167"><use href="#d" y="167"/></g><g id="c45-168"><use href="#d" y="168"/></g></g>
<g transform="translate(143.3)"><g id="c46-169"><use href="#d" y="169"/></g><g id="c46-170"><use href="#d" y="170"/></g><g id="c46-171"><use href="#d" y="171"/></g><g id="c46-172"><use href="#d" y="172"/></g><g id="c46-173"><use href="#d" y="173"/></g><g id="c46-174"><use href="#d" y="174"/></g></g>
<g transform="translate(176.7)"><g id="c47-169"><use href="#d" y="169"/></g><g id="c47-170"><use href="#d" y="170"/></g><g id="c47-171"><use href="#d" y="171"/></g><g id="c47-172"><use href="#d" y="172"/></g><g id="c47-173"><use href="#d" y="173"/></g><g id="c47-174"><use href="#d" y="174"/></g><g id="c47-175"><use href="#d" y="175"/></g><g id="c47-176"><use href="#d" y="176"/></g><g id="c47-177"><use href="#d" y="177"/></g><g id="c47-178"><use href="#d" y="178"/></g><g id="c47-179"><use href="#d" y="179"/></g><g id="c47-180"><use href="#d" y="180"/></g></g>
<g transform="translate(159.3)"><g id="c48-181"><use href="#d" y="181"/></g><g id="c48-182"><use href="#d" y="182"/></g><g id="c48-183"><use href="#d" y="183"/></g><g id="c48-184"><use href="#d" y="184"/></g></g>
<g transform="translate(192.7)"><g id="c49-181"><use href="#d" y="181"/></g><g id="c49-182"><use href="#d" y="182"/></g></g>
<g transform="translate(259.3)"><g id="c50-163"><use href="#d" y="163"/></g><g id="c50-164"><use href="#d" y="164"/></g><g id="c50-165"><use href="#d" y="165"/></g><g id="c50-166"><use href="#d" y="166"/></g><g id="c50-167"><use href="#d" y="167"/></g><g id="c50-168"><use href="#d" y="168"/></g><g id="c50-169"><use href="#d" y="169"/></g><g id="c50-170"><use href="#d" y="170"/></g><g id="c50-171"><use href="#d" y="171"/></g><g id="c50-172"><use href="#d" y="172"/></g><g id="c50-173"><use href="#d" y="173"/></g><g id="c50-174"><use href="#d" y="174"/></g><g id="c50-175"><use href="#d" y="175"/></g><g id="c50-176"><use href="#d" y="176"/></g><g id="c50-177"><use href="#d" y="177"/></g><g id="c50-178"><use href="#d" y="178"/></g><g id="c50-179"><use href="#d" y="179"/></g><g id="c50-180"><use href="#d" y="180"/></g><g id="c50-181"><use href="#d" y="181"/></g><g id="c50-182"><use href="#d" y="182"/></g><g id="c50-183"><use href="#d" y="183"/></g><g id="c50-184"><use href="#d" y="184"/></g><g id="c50-185"><use href="#d" y="185"/></g><g id="c50-186"><use href="#d" y="186"/></g></g>
<g transform="translate(258)"><g id="c50-187"><use href="#d" y="187"/></g><g id="c50-188"><use href="#d" y="188"/></g><g id="c50-189"><use href="#d" y="189"/></g><g id="c50-190"><use href="#d" y="190"/></g><g id="c50-191"><use href="#d" y="191"/></g><g id="c50-192"><use href="#d" y="192"/></g></g>
<g transform="translate(260.7)"><g id="c50-193"><use href="#d" y="193"/></g><g id="c50-194"><use href="#d" y="194"/></g><g id="c50-195"><use href="#d" y="195"/></g><g id="c50-196"><use href="#d" y="196"/></g></g>
<g transform="translate(223.3)"><g id="c51-189"><use href="#d" y="189"/></g></g>
<g transform="translate(220.7)"><g id="c51-190"><use href="#d" y="190"/></g></g>
<g transform="translate(211.3)"><g id="c51-191"><use href="#d" y="191"/></g></g>
<g transform="translate(206)"><g id="c51-192"><use href="#d" y="192"/></g></g>
<g transform="translate(194)"><g id="c51-193"><use href="#d" y="193"/></g><g id="c51-194"><use href="#d" y="194"/></g><g id="c51-195"><use href="#d" y="195"/></g><g id="c51-196"><use href="#d" y="196"/></g><g id="c51-197"><use href="#d" y="197"/></g><g id="c51-198"><use href="#d" y="198"/></g><g id="c51-199"><use href="#d" y="199"/></g><g id="c51-200"><use href="#d" y="200"/></g><g id="c51-201"><use href="#d" y="201"/></g><g id="c51-202"><use href="#d" y="202"/></g><g id="c51-203"><use href="#d" y="203"/></g><g id="c51-204"><use href="#d" y="204"/></g><g id="c51-205"><use href="#d" y="205"/></g><g id="c51-206"><use href="#d" y="206"/></g></g>
<g transform="translate(227.3)"><g id="c52-193"><use href="#d" y="193"/></g><g id="c52-194"><use href="#d" y="194"/></g><g id="c53-195"><use href="#d" y="195"/></g><g id="c53-196"><use href="#d" y="196"/></g></g>
<g transform="translate(84.7)"><g id="c54-197"><use href="#d" y="197"/></g><g id="c54-198"><use href="#d" y="198"/></g><g id="c54-199"><use href="#d" y="199"/></g><g id="c54-200"><use href="#d" y="200"/></g><g id="c54-201"><use href="#d" y="201"/></g><g id="c54-202"><use href="#d" y="202"/></g><g id="c54-203"><use href="#d" y="203"/></g><g id="c54-204"><use href="#d" y="204"/></g></g>
<g transform="translate(118)"><g id="c55-197"><use href="#d" y="197"/></g><g id="c55-198"><use href="#d" y="198"/></g><g id="c55-199"><use href="#d" y="199"/></g><g id="c55-200"><use href="#d" y="200"/></g><g id="c55-201"><use href="#d" y="201"/></g><g id="c55-202"><use href="#d" y="202"/></g><g id="c55-203"><use href="#d" y="203"/></g><g id="c55-204"><use href="#d" y="204"/></g><g id="c55-205"><use href="#d" y="205"/></g><g id="c55-206"><use href="#d" y="206"/></g><g id="c55-207"><use href="#d" y="207"/></g><g id="c55-208"><use href="#d" y="208"/></g><g id="c55-209"><use href="#d" y="209"/></g><g id="c55-210"><use href="#d" y="210"/></g><g id="c55-211"><use href="#d" y="211"/></g><g id="c55-212"><use href="#d" y="212"/></g><g id="c55-213"><use href="#d" y="213"/></g><g id="c55-214"><use href="#d" y="214"/></g><g id="c55-215"><use href="#d" y="215"/></g><g id="c55-216"><use href="#d" y="216"/></g><g id="c55-217"><use href="#d" y="217"/></g><g id="c55-218"><use href="#d" y="218"/></g><g id="c55-219"><use href="#d" y="219"/></g><g id="c55-220"><use href="#d" y="220"/></g><g id="c55-221"><use href="#d" y="221"/></g><g id="c55-222"><use href="#d" y="222"/></g><g id="c55-223"><use href="#d" y="223"/></g><g id="c55-224"><use href="#d" y="224"/></g><g id="c55-225"><use href="#d" y="225"/></g><g id="c55-226"><use href="#d" y="226"/></g><g id="c55-227"><use href="#d" y="227"/></g><g id="c55-228"><use href="#d" y="228"/></g></g>
<g transform="translate(151.3)"><g id="c56-199"><use href="#d" y="199"/></g><g id="c56-200"><use href="#d" y="200"/></g></g>
<g transform="translate(115.3)"><g id="c57-229"><use href="#d" y="229"/></g><g id="c57-230"><use href="#d" y="230"/></g><g id="c57-231"><use href="#d" y="231"/></g><g id="c57-232"><use href="#d" y="232"/></g><g id="c57-233"><use href="#d" y="233"/></g><g id="c57-234"><use href="#d" y="234"/></g></g>
<g transform="translate(82)"><g id="c58-233"><use href="#d" y="233"/></g><g id="c58-234"><use href="#d" y="234"/></g></g>
<g transform="translate(148.7)"><g id="c59-229"><use href="#d" y="229"/></g><g id="c59-230"><use href="#d" y="230"/></g><g id="c59-231"><use href="#d" y="231"/></g><g id="c59-232"><use href="#d" y="232"/></g><g id="c59-233"><use href="#d" y="233"/></g><g id="c59-234"><use href="#d" y="234"/></g></g>
<g transform="translate(119.3)"><g id="c60-235"><use href="#d" y="235"/></g><g id="c60-236"><use href="#d" y="236"/></g><g id="c60-237"><use href="#d" y="237"/></g><g id="c60-238"><use href="#d" y="238"/></g><g id="c60-239"><use href="#d" y="239"/></g><g id="c60-240"><use href="#d" y="240"/></g><g id="c60-241"><use href="#d" y="241"/></g></g>
<g transform="translate(118)"><g id="c60-242"><use href="#d" y="242"/></g></g>
<g transform="translate(115.3)"><g id="c60-243"><use href="#d" y="243"/></g></g>
<g transform="translate(111.3)"><g id="c60-244"><use href="#d" y="244"/></g></g>
<g transform="translate(107.3)"><g id="c60-245"><use href="#d" y="245"/></g><g id="c60-246"><use href="#d" y="246"/></g></g>
<g transform="translate(86)"><g id="c61-239"><use href="#d" y="239"/></g><g id="c61-240"><use href="#d" y="240"/></g></g>
<g transform="translate(152.7)"><g id="c62-235"><use href="#d" y="235"/></g><g id="c62-236"><use href="#d" y="236"/></g><g id="c62-237"><use href="#d" y="237"/></g><g id="c62-238"><use href="#d" y="238"/></g><g id="c62-239"><use href="#d" y="239"/></g><g id="c62-240"><use href="#d" y="240"/></g><g id="c62-241"><use href="#d" y="241"/></g><g id="c62-242"><use href="#d" y="242"/></g><g id="c62-243"><use href="#d" y="243"/></g><g id="c62-244"><use href="#d" y="244"/></g></g>
<g transform="translate(187.3)"><g id="c63-239"><use href="#d" y="239"/></g><g id="c63-240"><use href="#d" y="240"/></g><g id="c63-241"><use href="#d" y="241"/></g><g id="c63-242"><use href="#d" y="242"/></g></g>
<g transform="translate(188.7)"><g id="c63-243"><use href="#d" y="243"/></g></g>
<g transform="translate(191.3)"><g id="c63-244"><use href="#d" y="244"/></g></g>
<g transform="translate(207.3)"><g id="c63-245"><use href="#d" y="245"/></g><g id="c63-246"><use href="#d" y="246"/></g><g id="c63-247"><use href="#d" y="247"/></g><g id="c63-248"><use href="#d" y="248"/></g></g>
<g transform="translate(140.7)"><g id="c64-245"><use href="#d" y="245"/></g><g id="c64-246"><use href="#d" y="246"/></g><g id="c64-247"><use href="#d" y="247"/></g><g id="c64-248"><use href="#d" y="248"/></g></g>
<g transform="translate(174)"><g id="c65-245"><use href="#d" y="245"/></g><g id="c65-246"><use href="#d" y="246"/></g></g>
<g transform="translate(224.7)"><g id="c66-249"><use href="#d" y="249"/></g><g id="c66-250"><use href="#d" y="250"/></g></g>
<g transform="translate(191.3)"><g id="c67-249"><use href="#d" y="249"/></g><g id="c67-250"><use href="#d" y="250"/></g><g id="c67-251"><use href="#d" y="251"/></g><g id="c67-252"><use href="#d" y="252"/></g><g id="c67-253"><use href="#d" y="253"/></g><g id="c67-254"><use href="#d" y="254"/></g><g id="c67-255"><use href="#d" y="255"/></g><g id="c67-256"><use href="#d" y="256"/></g><g id="c67-257"><use href="#d" y="257"/></g><g id="c67-258"><use href="#d" y="258"/></g><g id="c67-259"><use href="#d" y="259"/></g><g id="c67-260"><use href="#d" y="260"/></g><g id="c67-261"><use href="#d" y="261"/></g><g id="c67-262"><use href="#d" y="262"/></g><g id="c67-263"><use href="#d" y="263"/></g><g id="c67-264"><use href="#d" y="264"/></g><g id="c67-265"><use href="#d" y="265"/></g><g id="c67-266"><use href="#d" y="266"/></g><g id="c67-267"><use href="#d" y="267"/></g><g id="c67-268"><use href="#d" y="268"/></g><g id="c67-269"><use href="#d" y="269"/></g><g id="c67-270"><use href="#d" y="270"/></g><g id="c67-271"><use href="#d" y="271"/></g><g id="c67-272"><use href="#d" y="272"/></g></g>
<g transform="translate(224.7)"><g id="c68-259"><use href="#d" y="259"/></g><g id="c68-260"><use href="#d" y="260"/></g></g>
<g transform="translate(160.7)"><g id="c69-273"><use href="#d" y="273"/></g><g id="c69-274"><use href="#d" y="274"/></g><g id="c69-275"><use href="#d" y="275"/></g><g id="c69-276"><use href="#d" y="276"/></g><g id="c69-277"><use href="#d" y="277"/></g><g id="c69-278"><use href="#d" y="278"/></g><g id="c69-279"><use href="#d" y="279"/></g><g id="c69-280"><use href="#d" y="280"/></g><g id="c69-281"><use href="#d" y="281"/></g><g id="c69-282"><use href="#d" y="282"/></g><g id="c69-283"><use href="#d" y="283"/></g><g id="c69-284"><use href="#d" y="284"/></g><g id="c69-285"><use href="#d" y="285"/></g><g id="c69-286"><use href="#d" y="286"/></g><g id="c69-287"><use href="#d" y="287"/></g><g id="c69-288"><use href="#d" y="288"/></g><g id="c69-289"><use href="#d" y="289"/></g><g id="c69-290"><use href="#d" y="290"/></g><g id="c69-291"><use href="#d" y="291"/></g><g id="c69-292"><use href="#d" y="292"/></g><g id="c69-293"><use href="#d" y="293"/></g><g id="c69-294"><use href="#d" y="294"/></g><g id="c69-295"><use href="#d" y="295"/></g><g id="c69-296"><use href="#d" y="296"/></g><g id="c69-297"><use href="#d" y="297"/></g><g id="c69-298"><use href="#d" y="298"/></g></g>
<g transform="translate(194)"><g id="c70-273"><use href="#d" y="273"/></g><g id="c70-274"><use href="#d" y="274"/></g><g id="c70-275"><use href="#d" y="275"/></g><g id="c70-276"><use href="#d" y="276"/></g><g id="c70-277"><use href="#d" y="277"/></g><g id="c70-278"><use href="#d" y="278"/></g></g>
<g transform="translate(227.3)"><g id="c71-277"><use href="#d" y="277"/></g><g id="c71-278"><use href="#d" y="278"/></g><g id="c71-279"><use href="#d" y="279"/></g><g id="c71-280"><use href="#d" y="280"/></g><g id="c71-281"><use href="#d" y="281"/></g><g id="c71-282"><use href="#d" y="282"/></g><g id="c71-283"><use href="#d" y="283"/></g><g id="c71-284"><use href="#d" y="284"/></g></g>
<g transform="translate(178)"><g id="c72-299"><use href="#d" y="299"/></g><g id="c72-300"><use href="#d" y="300"/></g></g>
<g transform="translate(144.7)"><g id="c73-299"><use href="#d" y="299"/></g><g id="c73-300"><use href="#d" y="300"/></g><g id="c73-301"><use href="#d" y="301"/></g><g id="c73-302"><use href="#d" y="302"/></g><g id="c73-303"><use href="#d" y="303"/></g><g id="c73-304"><use href="#d" y="304"/></g><g id="c73-305"><use href="#d" y="305"/></g><g id="c73-306"><use href="#d" y="306"/></g><g id="c73-307"><use href="#d" y="307"/></g><g id="c73-308"><use href="#d" y="308"/></g><g id="c73-309"><use href="#d" y="309"/></g><g id="c73-310"><use href="#d" y="310"/></g><g id="c73-311"><use href="#d" y="311"/></g><g id="c73-312"><use href="#d" y="312"/></g><g id="c73-313"><use href="#d" y="313"/></g><g id="c73-314"><use href="#d" y="314"/></g><g id="c73-315"><use href="#d" y="315"/></g><g id="c73-316"><use href="#d" y="316"/></g><g id="c73-317"><use href="#d" y="317"/></g><g id="c73-318"><use href="#d" y="318"/></g></g>
<g transform="translate(128.7)"><g id="c74-319"><use href="#d" y="319"/></g><g id="c74-320"><use href="#d" y="320"/></g><g id="c74-321"><use href="#d" y="321"/></g><g id="c74-322"><use href="#d" y="322"/></g><g id="c74-323"><use href="#d" y="323"/></g><g id="c74-324"><use href="#d" y="324"/></g><g id="c74-325"><use href="#d" y="325"/></g><g id="c74-326"><use href="#d" y="326"/></g><g id="c74-327"><use href="#d" y="327"/></g><g id="c74-328"><use href="#d" y="328"/></g><g id="c74-329"><use href="#d" y="329"/></g><g id="c74-330"><use href="#d" y="330"/></g><g id="c74-331"><use href="#d" y="331"/></g><g id="c74-332"><use href="#d" y="332"/></g><g id="c74-333"><use href="#d" y="333"/></g><g id="c74-334"><use href="#d" y="334"/></g><g id="c74-335"><use href="#d" y="335"/></g><g id="c74-336"><use href="#d" y="336"/></g><g id="c74-337"><use href="#d" y="337"/></g><g id="c74-338"><use href="#d" y="338"/></g></g>
<g transform="translate(95.3)"><g id="c75-327"><use href="#d" y="327"/></g><g id="c75-328"><use href="#d" y="328"/></g><g id="c75-329"><use href="#d" y="329"/></g><g id="c75-330"><use href="#d" y="330"/></g><g id="c75-331"><use href="#d" y="331"/></g><g id="c75-332"><use href="#d" y="332"/></g></g>
<g transform="translate(112.7)"><g id="c76-339"><use href="#d" y="339"/></g><g id="c76-340"><use href="#d" y="340"/></g></g>
<g transform="translate(146)"><g id="c77-339"><use href="#d" y="339"/></g><g id="c77-340"><use href="#d" y="340"/></g><g id="c77-341"><use href="#d" y="341"/></g><g id="c77-342"><use href="#d" y="342"/></g></g>
<g transform="translate(162)"><g id="c78-319"><use href="#d" y="319"/></g><g id="c78-320"><use href="#d" y="320"/></g><g id="c78-321"><use href="#d" y="321"/></g><g id="c78-322"><use href="#d" y="322"/></g><g id="c78-323"><use href="#d" y="323"/></g><g id="c78-324"><use href="#d" y="324"/></g><g id="c78-325"><use href="#d" y="325"/></g><g id="c78-326"><use href="#d" y="326"/></g><g id="c78-327"><use href="#d" y="327"/></g><g id="c78-328"><use href="#d" y="328"/></g></g>
<g transform="translate(195.3)"><g id="c79-325"><use href="#d" y="325"/></g><g id="c79-326"><use href="#d" y="326"/></g><g id="c79-327"><use href="#d" y="327"/></g><g id="c79-328"><use href="#d" y="328"/></g></g>
</g>
</g>
</svg>
